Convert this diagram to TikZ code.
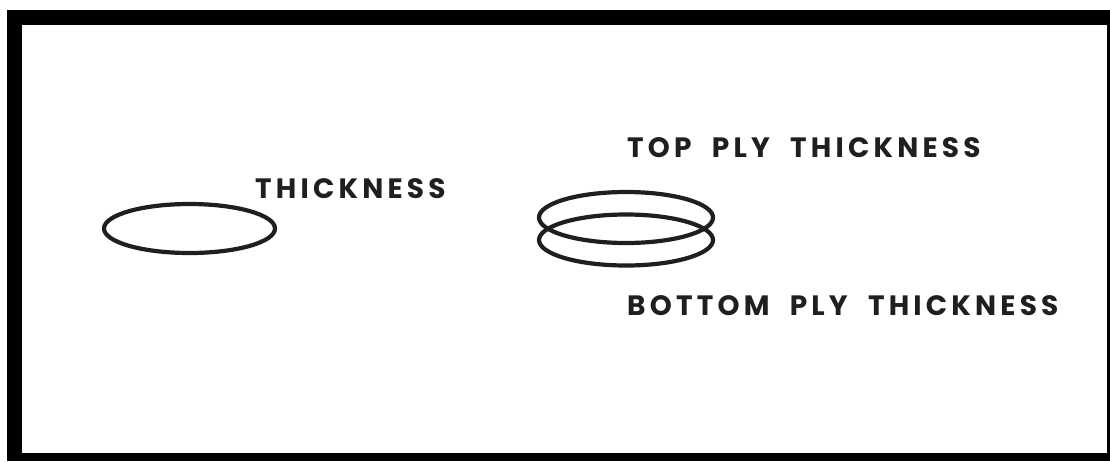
\documentclass[tikz,border=0pt]{standalone}
\usepackage{fontspec}
\newfontfamily\labelfont[LetterSpace=15,WordSpace=2.0]{Poppins}
\tikzset{
  ring/.style={draw=black!88, line width=4.2pt},
  lbl/.style={inner sep=0pt, anchor=base west, text=black!88, font=\labelfont\bfseries\fontsize{28}{28}\selectfont}
}
\begin{document}
\begin{tikzpicture}[x=1pt,y=-1pt]
\useasboundingbox (0,0) rectangle (1110,461);
\fill[white] (0,0) rectangle (1110,461);
\fill[black] (7,10) rectangle (1110,461);
\fill[white] (22,25) rectangle (1107,453);
\draw[ring] (189.5,228.5) ellipse [x radius=85.5, y radius=24.5];
\draw[ring] (626,217.5) ellipse [x radius=87, y radius=25.5];
\draw[ring] (626,240) ellipse [x radius=87, y radius=25.5];
\node[lbl] (t1) at (255,198) {THICKNESS};
\node[lbl] (t2) at (627,157) {TOP PLY THICKNESS};
\node[lbl] (t3) at (627,315) {BOTTOM PLY THICKNESS};
\end{tikzpicture}
\end{document}
